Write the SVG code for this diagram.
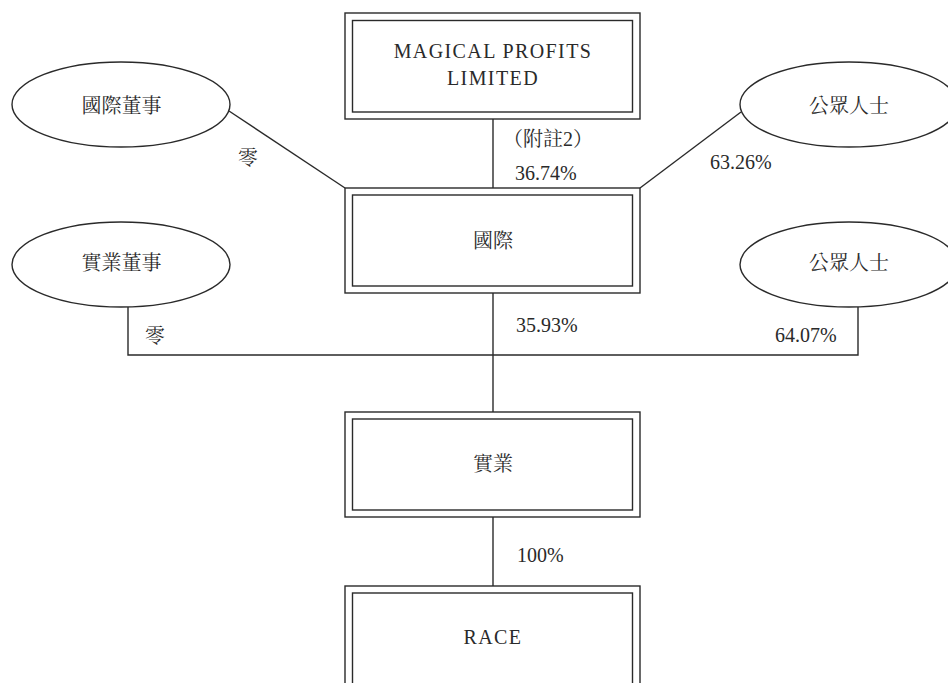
<svg xmlns="http://www.w3.org/2000/svg" width="948" height="683" viewBox="0 0 948 683">
<style>
.bx{fill:none;stroke:#2a2a2a;stroke-width:1.4}
.el{fill:#fff;stroke:#2a2a2a;stroke-width:1.4}
.ln{fill:none;stroke:#2a2a2a;stroke-width:1.4}
.t{font-family:"Liberation Serif","Noto Serif CJK TC","Noto Sans CJK TC",serif;font-size:20px;fill:#2a2a2a}
.c{text-anchor:middle}
.ls{letter-spacing:1.4px}
</style>
<rect width="948" height="683" fill="#fff"/>
<g id="connectors">
<line class="ln" x1="493" y1="119" x2="493" y2="188"/>
<line class="ln" x1="229" y1="111" x2="345" y2="188"/>
<line class="ln" x1="741" y1="112" x2="640" y2="188"/>
<line class="ln" x1="493" y1="293" x2="493" y2="412"/>
<polyline class="ln" points="128,307 128,355 858,355 858,307"/>
<line class="ln" x1="493" y1="517" x2="493" y2="586"/>
<text class="t" x="503" y="146">（附註2）</text>
<text class="t" x="515" y="180">36.74%</text>
<text class="t c" x="248" y="164.5">零</text>
<text class="t" x="710" y="168.6">63.26%</text>
<text class="t" x="516" y="331.6">35.93%</text>
<text class="t c" x="155" y="342.5">零</text>
<text class="t" x="775" y="341.6">64.07%</text>
<text class="t" x="517" y="561.6">100%</text>
</g>
<g id="magical">
<rect class="bx" x="345" y="13" width="295" height="106"/>
<rect class="bx" x="352.5" y="20.5" width="280" height="91.5"/>
<text class="t c ls" x="493" y="58">MAGICAL PROFITS</text>
<text class="t c ls" x="493" y="85">LIMITED</text>
</g>
<g id="guoji">
<rect class="bx" x="345" y="188" width="295" height="105"/>
<rect class="bx" x="352.5" y="195" width="280" height="91"/>
<text class="t c" x="493" y="248">國際</text>
</g>
<g id="shiye">
<rect class="bx" x="345" y="412" width="295" height="105"/>
<rect class="bx" x="352.5" y="419" width="280" height="91"/>
<text class="t c" x="493" y="470.6">實業</text>
</g>
<g id="race">
<rect class="bx" x="345" y="586" width="295" height="110"/>
<rect class="bx" x="352.5" y="593" width="280" height="100"/>
<text class="t c ls" x="493" y="643.6">RACE</text>
</g>
<g id="guoji-directors">
<ellipse class="el" cx="121" cy="104.5" rx="109" ry="42.5"/>
<text class="t c" x="121.5" y="112.5">國際董事</text>
</g>
<g id="public-1">
<ellipse class="el" cx="849" cy="104.5" rx="109" ry="42.5"/>
<text class="t c" x="849" y="112.5">公眾人士</text>
</g>
<g id="shiye-directors">
<ellipse class="el" cx="121" cy="264.5" rx="109" ry="42.5"/>
<text class="t c" x="121.5" y="270">實業董事</text>
</g>
<g id="public-2">
<ellipse class="el" cx="849" cy="264.5" rx="109" ry="42.5"/>
<text class="t c" x="849" y="270">公眾人士</text>
</g>
</svg>
